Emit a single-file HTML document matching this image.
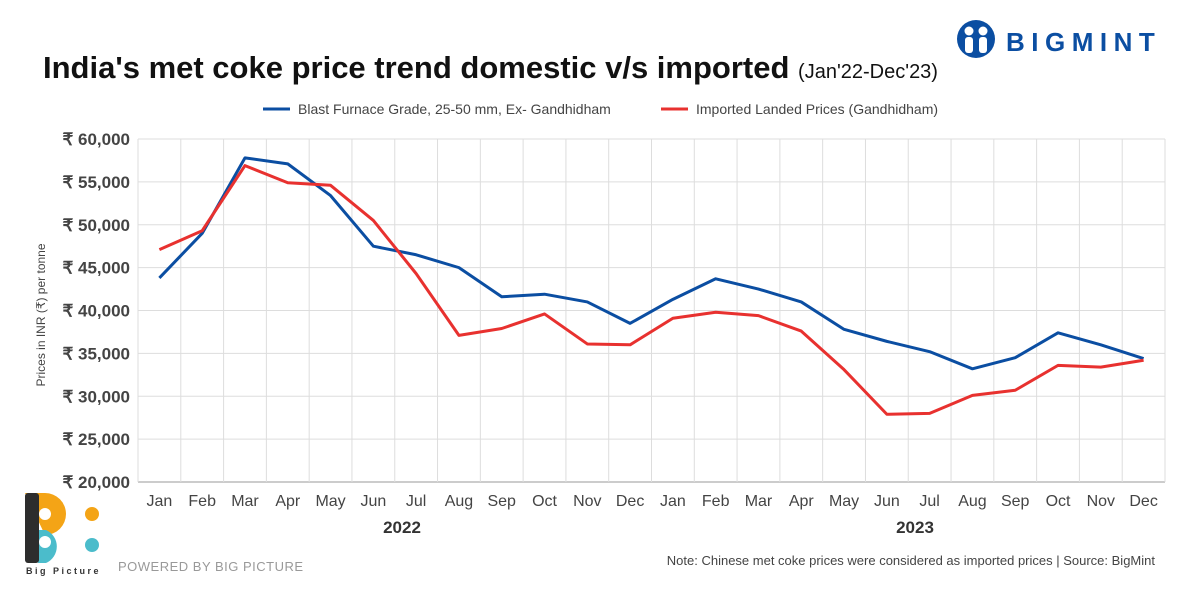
<!DOCTYPE html>
<html><head><meta charset="utf-8"><style>
body{margin:0;background:#fff;font-family:"Liberation Sans",sans-serif}
svg{display:block}
</style></head><body>
<svg width="1200" height="600" xmlns="http://www.w3.org/2000/svg">
<text x="43" y="78" font-size="31" font-weight="bold" fill="#111">India's met coke price trend domestic v/s imported <tspan font-size="20" font-weight="normal">(Jan'22-Dec'23)</tspan></text>
<g>
<circle cx="976" cy="39" r="19" fill="#0b4ea2"/>
<circle cx="969" cy="31" r="4.5" fill="#fff"/><circle cx="983" cy="31" r="4.5" fill="#fff"/>
<rect x="965" y="37" width="8" height="16" rx="3" fill="#fff"/><rect x="979" y="37" width="8" height="16" rx="3" fill="#fff"/>
<text x="1006" y="51" font-size="26" font-weight="bold" fill="#0b4ea2" letter-spacing="6.5">BIGMINT</text>
</g>
<g>
<line x1="263" y1="109" x2="290" y2="109" stroke="#0b4ea2" stroke-width="3"/>
<text x="298" y="114" font-size="14" fill="#444">Blast Furnace Grade, 25-50 mm, Ex- Gandhidham</text>
<line x1="661" y1="109" x2="688" y2="109" stroke="#e8312f" stroke-width="3"/>
<text x="696" y="114" font-size="14" fill="#444">Imported Landed Prices (Gandhidham)</text>
</g>
<g id="grid"></g><g id="axes"></g><g id="lines"></g>
<text transform="translate(45,315) rotate(-90)" text-anchor="middle" font-size="12" fill="#444">Prices in INR (₹) per tonne</text>
<text x="402" y="533" text-anchor="middle" font-size="17" font-weight="bold" fill="#333">2022</text>
<text x="915" y="533" text-anchor="middle" font-size="17" font-weight="bold" fill="#333">2023</text>
<g>
<path d="M25 493 h20 a21 21 0 0 1 0 42 a21 21 0 0 1 0 0 z" fill="#f4a416"/>
<path d="M38 530 h8 a18 18 0 0 1 0 33 h-8 z" fill="#4bbccb"/>
<rect x="25" y="493" width="14" height="70" rx="3" fill="#2d2d2d"/>
<circle cx="45" cy="514" r="6" fill="#fff"/><circle cx="45" cy="542" r="6" fill="#fff"/>
<circle cx="92" cy="514" r="7" fill="#f4a416"/><circle cx="92" cy="545" r="7" fill="#4bbccb"/>
<text x="26" y="574" font-size="9" font-weight="bold" fill="#333" letter-spacing="2.5">Big Picture</text>
</g>
<text x="118" y="571" font-size="13" fill="#999" letter-spacing="0.5">POWERED BY BIG PICTURE</text>
<text x="1155" y="565" text-anchor="end" font-size="13" fill="#444">Note: Chinese met coke prices were considered as imported prices  |  Source: BigMint</text>
</svg>
<script>
const months=["Jan","Feb","Mar","Apr","May","Jun","Jul","Aug","Sep","Oct","Nov","Dec","Jan","Feb","Mar","Apr","May","Jun","Jul","Aug","Sep","Oct","Nov","Dec"];
const domestic=[43800,49000,57800,57100,53400,47500,46500,45000,41600,41900,41000,38500,41300,43700,42500,41000,37800,36400,35200,33200,34500,37400,36000,34400];
const imported=[47100,49300,56900,54900,54600,50500,44300,37100,37900,39600,36100,36000,39100,39800,39400,37600,33100,27900,28000,30100,30700,33600,33400,34200];
const yTicks=[20000,25000,30000,35000,40000,45000,50000,55000,60000];
const NS="http://www.w3.org/2000/svg";
const L=138,R=1165,T=139,B=482,yMin=20000,yMax=60000;
const step=(R-L)/months.length;
const x=i=>L+step*(i+0.5);
const y=v=>B-(v-yMin)/(yMax-yMin)*(B-T);
function mk(t,a,p){const e=document.createElementNS(NS,t);for(const k in a)e.setAttribute(k,a[k]);p.appendChild(e);return e;}
const grid=document.getElementById('grid'),axes=document.getElementById('axes'),lines=document.getElementById('lines');
yTicks.forEach(v=>{
 const g=mk('line',{x1:L,x2:R,y1:y(v),y2:y(v),stroke:v===yMin?'#999':'#ddd','stroke-width':1},grid);
 
 
 const t=mk('text',{x:L-8,y:y(v)+6,'text-anchor':'end','font-size':17,'font-weight':'bold',fill:'#444'},axes);
 t.textContent='₹ '+v.toLocaleString('en-US');
 
 
});
for(let i=0;i<=months.length;i++){
 const g=mk('line',{x1:L+step*i,x2:L+step*i,y1:T,y2:B,stroke:'#ddd','stroke-width':1},grid);
 
 
}
months.forEach((m,i)=>{
 const t=mk('text',{x:x(i),y:506,'text-anchor':'middle','font-size':16,fill:'#444'},axes);
 t.textContent=m;
 
 
});
function line(d,c,n){
 const p=mk('polyline',{points:d.map((v,i)=>x(i)+','+y(v)).join(' '),fill:'none',stroke:c,'stroke-width':3,'stroke-linejoin':'round'},lines);
 
 
}
line(domestic,'#0b4ea2','domestic-price-line');
line(imported,'#e8312f','imported-price-line');
</script>
</body></html>
